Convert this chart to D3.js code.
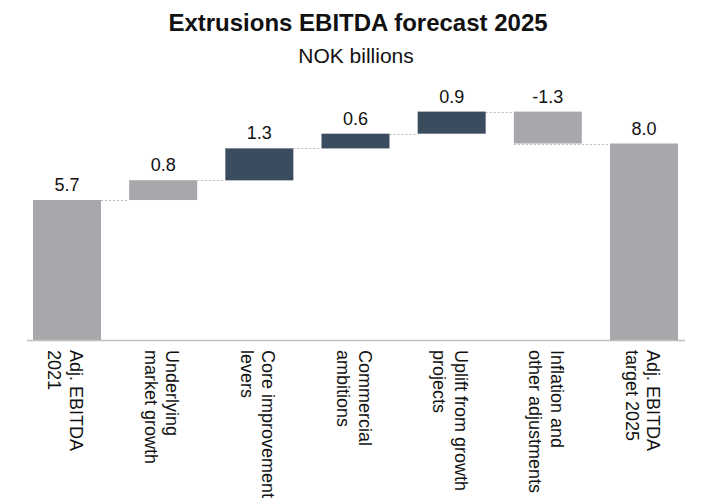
<!DOCTYPE html>
<html lang="en">
<head>
    <meta charset="UTF-8">
    <title>Extrusions EBITDA forecast 2025</title>
    <script src="https://d3js.org/d3.v7.min.js"></script>
    <style>
        body { margin: 0; background: #fff; }
        text { font-family: "Liberation Sans", Arial, sans-serif; fill: #111; }
    </style>
</head>
<body>
    <svg id="chart" width="703" height="499"></svg>

    <script>
        // Chart data
        const categories = [
            ['Adj. EBITDA', '2021'],
            ['Underlying', 'market growth'],
            ['Core improvement', 'levers'],
            ['Commercial', 'ambitions'],
            ['Uplift from growth', 'projects'],
            ['Inflation and', 'other adjustments'],
            ['Adj. EBITDA', 'target 2025']
        ];
        const values = [5.7, 0.8, 1.3, 0.6, 0.9, -1.3, 8.0];
        const kinds = ['total', 'step', 'step', 'step', 'step', 'step', 'total'];
        const valueLabels = ['5.7', '0.8', '1.3', '0.6', '0.9', '-1.3', '8.0'];
        const barColors = ['#a7a8ac', '#a7a8ac', '#3b4c5e', '#3b4c5e', '#3b4c5e', '#a7a8ac', '#a7a8ac'];

        const width = 703;
        const height = 499;

        // running totals for the waterfall
        let running = 0;
        const bars = values.map((v, i) => {
            let start, end;
            if (kinds[i] === 'total') {
                start = 0;
                end = v;
                running = v;
            } else {
                start = running;
                end = running + v;
                running = end;
            }
            return { i, start, end, label: valueLabels[i], name: categories[i], color: barColors[i] };
        });

        const svg = d3.select('#chart');

        const x = d3.scaleBand()
            .domain(d3.range(categories.length))
            .range([33, 678])
            .paddingInner(0.293)
            .paddingOuter(0);

        const y = d3.scaleLinear()
            .domain([0, 10])
            .range([340, 94.4]);

        // Title
        svg.append('text')
            .attr('x', 358)
            .attr('y', 31)
            .attr('text-anchor', 'middle')
            .style('font-size', '24px')
            .style('font-weight', 'bold')
            .text('Extrusions EBITDA forecast 2025');

        svg.append('text')
            .attr('x', 356)
            .attr('y', 63)
            .attr('text-anchor', 'middle')
            .style('font-size', '21px')
            .text('NOK billions');

        // dotted connectors between bars
        svg.selectAll('.connector')
            .data(bars.slice(0, -1))
            .join('line')
            .attr('class', 'connector')
            .attr('x1', d => x(d.i))
            .attr('x2', d => x(d.i + 1))
            .attr('y1', d => Math.round(y(d.end)) + 0.5)
            .attr('y2', d => Math.round(y(d.end)) + 0.5)
            .attr('stroke', '#bdbdbd')
            .attr('stroke-width', 1)
            .attr('stroke-dasharray', '2,2');

        // bars
        svg.selectAll('.bar')
            .data(bars)
            .join('rect')
            .attr('class', 'bar')
            .attr('x', d => x(d.i))
            .attr('width', x.bandwidth())
            .attr('y', d => y(Math.max(d.start, d.end)))
            .attr('height', d => Math.abs(y(d.start) - y(d.end)))
            .attr('fill', d => d.color);

        // value labels
        svg.selectAll('.value')
            .data(bars)
            .join('text')
            .attr('class', 'value')
            .attr('x', d => x(d.i) + x.bandwidth() / 2)
            .attr('y', d => y(Math.max(d.start, d.end)) - 9)
            .attr('text-anchor', 'middle')
            .style('font-size', '18px')
            .text(d => d.label);

        // baseline
        svg.append('line')
            .attr('x1', 27)
            .attr('x2', 685)
            .attr('y1', y(0) + 0.5)
            .attr('y2', y(0) + 0.5)
            .attr('stroke', '#bfbfbf')
            .attr('stroke-width', 1.5);

        // rotated category labels, two lines each
        const labels = svg.selectAll('.cat')
            .data(bars)
            .join('text')
            .attr('class', 'cat')
            .attr('transform', d => `translate(${x(d.i) + x.bandwidth() / 2},350) rotate(90)`)
            .style('font-size', '18px');

        labels.append('tspan')
            .attr('x', 0)
            .attr('y', -3)
            .text(d => d.name[0]);

        labels.append('tspan')
            .attr('x', 0)
            .attr('y', 18.5)
            .text(d => d.name[1]);
    </script>
</body>
</html>
